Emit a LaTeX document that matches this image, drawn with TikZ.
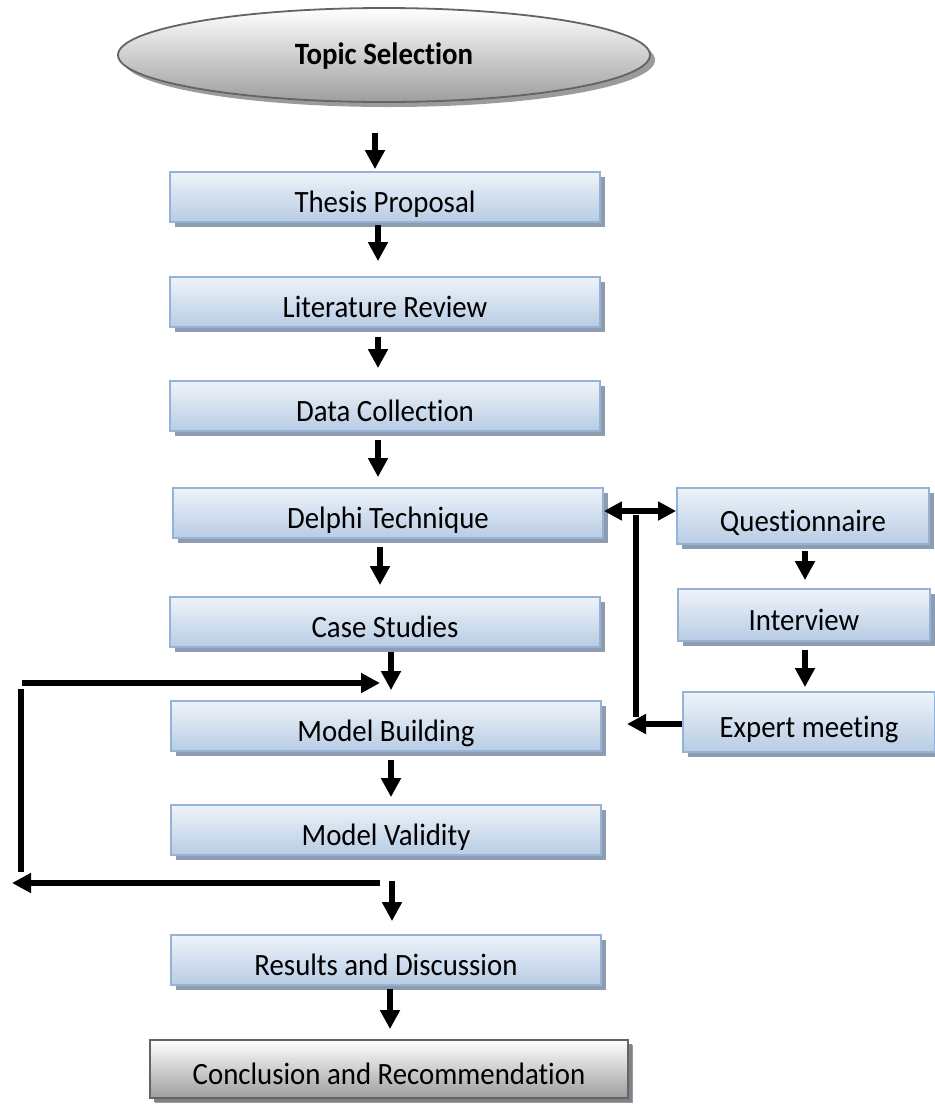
\documentclass[tikz,border=0pt]{standalone}
\usepackage{fontspec}
\setmainfont[Ligatures=NoCommon, FakeStretch=0.93]{Carlito}
\usetikzlibrary{shapes,arrows.meta,positioning,calc,shadows}

\definecolor{boxtop}{RGB}{238,243,249}
\definecolor{boxbot}{RGB}{184,204,228}
\definecolor{boxline}{RGB}{149,179,215}
\definecolor{boxshadow}{RGB}{143,155,174}
\definecolor{greybot}{RGB}{158,158,158}
\definecolor{greyline}{RGB}{100,100,100}
\definecolor{greyshadow}{RGB}{130,130,130}

\tikzset{
  stage/.style={rectangle, draw=boxline, line width=1.8pt, top color=boxtop, bottom color=boxbot,
    minimum width=430pt, minimum height=50pt, inner sep=0pt, text height=31pt, text depth=0pt,
    drop shadow={shadow xshift=5pt, shadow yshift=-5pt, fill=boxshadow, opacity=1}},
  side/.style={stage, minimum width=252pt, minimum height=52pt},
  final/.style={stage, draw=greyline, top color=white, bottom color=greybot, minimum width=478pt, minimum height=58pt,
    drop shadow={shadow xshift=4pt, shadow yshift=-4pt, fill=greyshadow, opacity=1}},
  topicnode/.style={ellipse, draw=greyline, line width=1.8pt, top color=white, bottom color=greybot,
    minimum width=532pt, minimum height=94pt, inner sep=0pt, text height=19pt, text depth=0pt,
    drop shadow={shadow xshift=5pt, shadow yshift=-5pt, fill=greyshadow, opacity=0.8}},
  line/.style={line width=6.5pt},
  arr/.style={line width=6.5pt, -{Triangle[width=19pt,length=19pt]}},
  dbl/.style={line width=6.5pt, {Triangle[width=18pt,length=18pt]}-{Triangle[width=18pt,length=18pt]}}
}

\begin{document}
\begin{tikzpicture}[x=1pt, y=-1pt, font=\fontsize{31}{36}\selectfont]
\useasboundingbox (0,0) rectangle (935,1104);

% Main stages
\node[topicnode] (topic) at (384,55) {\textbf{Topic Selection}};
\node[stage] (thesis) at (385,197) {Thesis Proposal};
\node[stage] (litrev) at (385,302) {Literature Review};
\node[stage] (datacol) at (385,406) {Data Collection};
\node[stage] (delphi) at (388,513) {Delphi Technique};
\node[stage] (cases) at (385,622) {Case Studies};
\node[stage] (mbuild) at (386,726) {Model Building};
\node[stage] (mvalid) at (386,830) {Model Validity};
\node[stage] (results) at (386,960) {Results and Discussion};
\node[final] (concl) at (389,1069) {Conclusion and Recommendation};

% Delphi rounds
\node[side, minimum height=56pt] (quest) at (803,516) {Questionnaire};
\node[side] (interv) at (804,615) {Interview};
\node[side, minimum height=60pt] (expert) at (809,722) {Expert meeting};

% Flow arrows
\draw[arr] ([xshift=-9pt,yshift=-30pt]topic.south) -- ([xshift=-10pt,yshift=2pt]thesis.north);
\draw[arr] ([xshift=-7pt,yshift=-2pt]thesis.south) -- ([xshift=-7pt,yshift=15pt]litrev.north);
\draw[arr] ([xshift=-7pt,yshift=-9pt]litrev.south) -- ([xshift=-7pt,yshift=12pt]datacol.north);
\draw[arr] ([xshift=-7pt,yshift=-8pt]datacol.south) -- ([xshift=-10pt,yshift=10pt]delphi.north);
\draw[arr] ([xshift=-8pt,yshift=-8pt]delphi.south) -- ([xshift=-5pt,yshift=11pt]cases.north);
\draw[arr] ([xshift=6pt,yshift=-4pt]cases.south) -- ([xshift=5pt,yshift=10pt]mbuild.north);
\draw[arr] ([xshift=5pt,yshift=-8pt]mbuild.south) -- ([xshift=5pt,yshift=7pt]mvalid.north);
\draw[arr] ([xshift=6pt,yshift=-25pt]mvalid.south) -- ([xshift=6pt,yshift=13pt]results.north);
\draw[arr] ([xshift=4pt,yshift=-3pt]results.south) -- ([xshift=1pt,yshift=10pt]concl.north);
\draw[arr] ([xshift=2pt,yshift=-6pt]quest.south) -- ([xshift=1pt,yshift=8pt]interv.north);
\draw[arr] ([xshift=1pt,yshift=-8pt]interv.south) -- ([xshift=-4pt,yshift=4pt]expert.north);

% Delphi loop
\coordinate (jtop) at (636,515);
\coordinate (jbot) at (636,717);
\draw[dbl] ([yshift=2pt]delphi.east) -- ([yshift=2pt]delphi.east -| quest.west);
\draw[line] (jtop) -- (jbot);
\draw[arr] (expert.west |- 0,724) -- (627,724);

% Feedback from validity to building
\coordinate (fbstart) at (380,883);
\coordinate (fbleft) at (12,883);
\coordinate (fbbot) at (21,872);
\coordinate (fbtop) at (21,689);
\coordinate (fbcorner) at (22,683);
\coordinate (fbend) at (380,683);
\draw[arr] (fbstart) -- (fbleft);
\draw[line] (fbbot) -- (fbtop);
\draw[arr] (fbcorner) -- (fbend);
\end{tikzpicture}
\end{document}
